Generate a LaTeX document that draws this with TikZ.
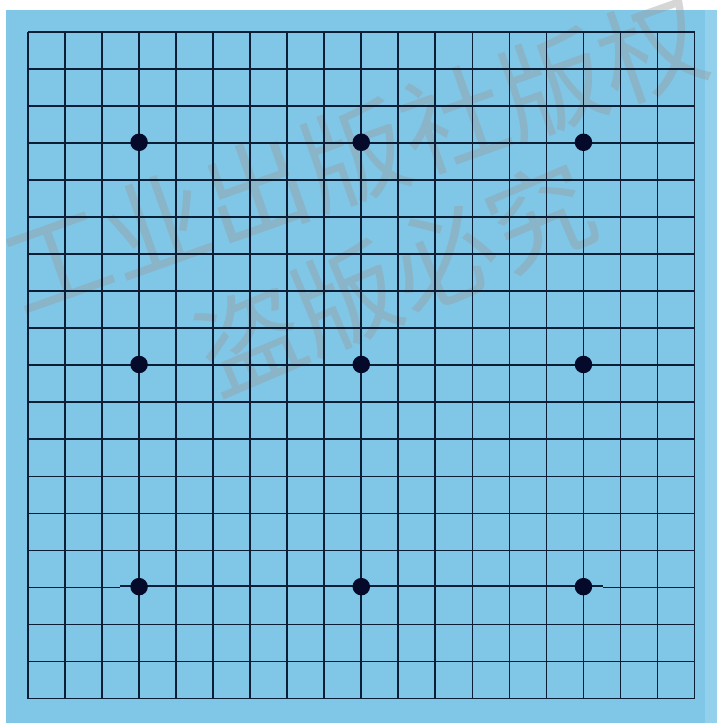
\documentclass[tikz,border=0pt]{standalone}
\usepackage{fontspec}
\newfontfamily\cjk{Noto Sans CJK SC}
\definecolor{boardblue}{HTML}{80C6E6}
\definecolor{boardedge}{HTML}{92D0EC}
\definecolor{linecol}{HTML}{0C1E36}
\definecolor{starcol}{HTML}{050A2A}
\begin{document}
\begin{tikzpicture}[x=1pt,y=-1pt,
  gridline/.style={draw=linecol, line width=1.7pt},
  stone/.style={circle, fill=starcol, inner sep=0pt, minimum size=17.5pt},
  wm/.style={text=gray!80, opacity=0.4, inner sep=0pt, font=\cjk\fontsize{105}{105}\selectfont}]
\useasboundingbox (0,0) rectangle (717,723);
\fill[boardblue] (6,10) rectangle (717,723);
\fill[boardedge] (705,10) rectangle (717,723);
% watermark (under the grid)
\node[wm, rotate=19.5] (wmA) at (355,155) {工业出版社版权};
\node[wm, rotate=23] (wmB) at (395,278) {盗版必究};
% vertical lines
\foreach \i in {0,...,18} {
  \draw[gridline] ({28+37.03*\i},32) -- ({28+37.03*\i},698.7);
}
% horizontal lines
\foreach \j in {0,...,14,16,17,18} {
  \draw[gridline] (28,{32+37.03*\j}) -- (694.5,{32+37.03*\j});
}
% row 15 with its small jog
\draw[gridline] (28,587.5) -- (120,587.5);
\draw[gridline] (120,585.8) -- (603,585.8);
\draw[gridline] (603,587.5) -- (694.5,587.5);
% star points
\foreach \a in {3,9,15} {
  \foreach \b in {3,9,15} {
    \node[stone] (s\a\b) at ({28+37.03*\a},{32+37.03*\b-0.8}) {};
  }
}
\end{tikzpicture}
\end{document}
